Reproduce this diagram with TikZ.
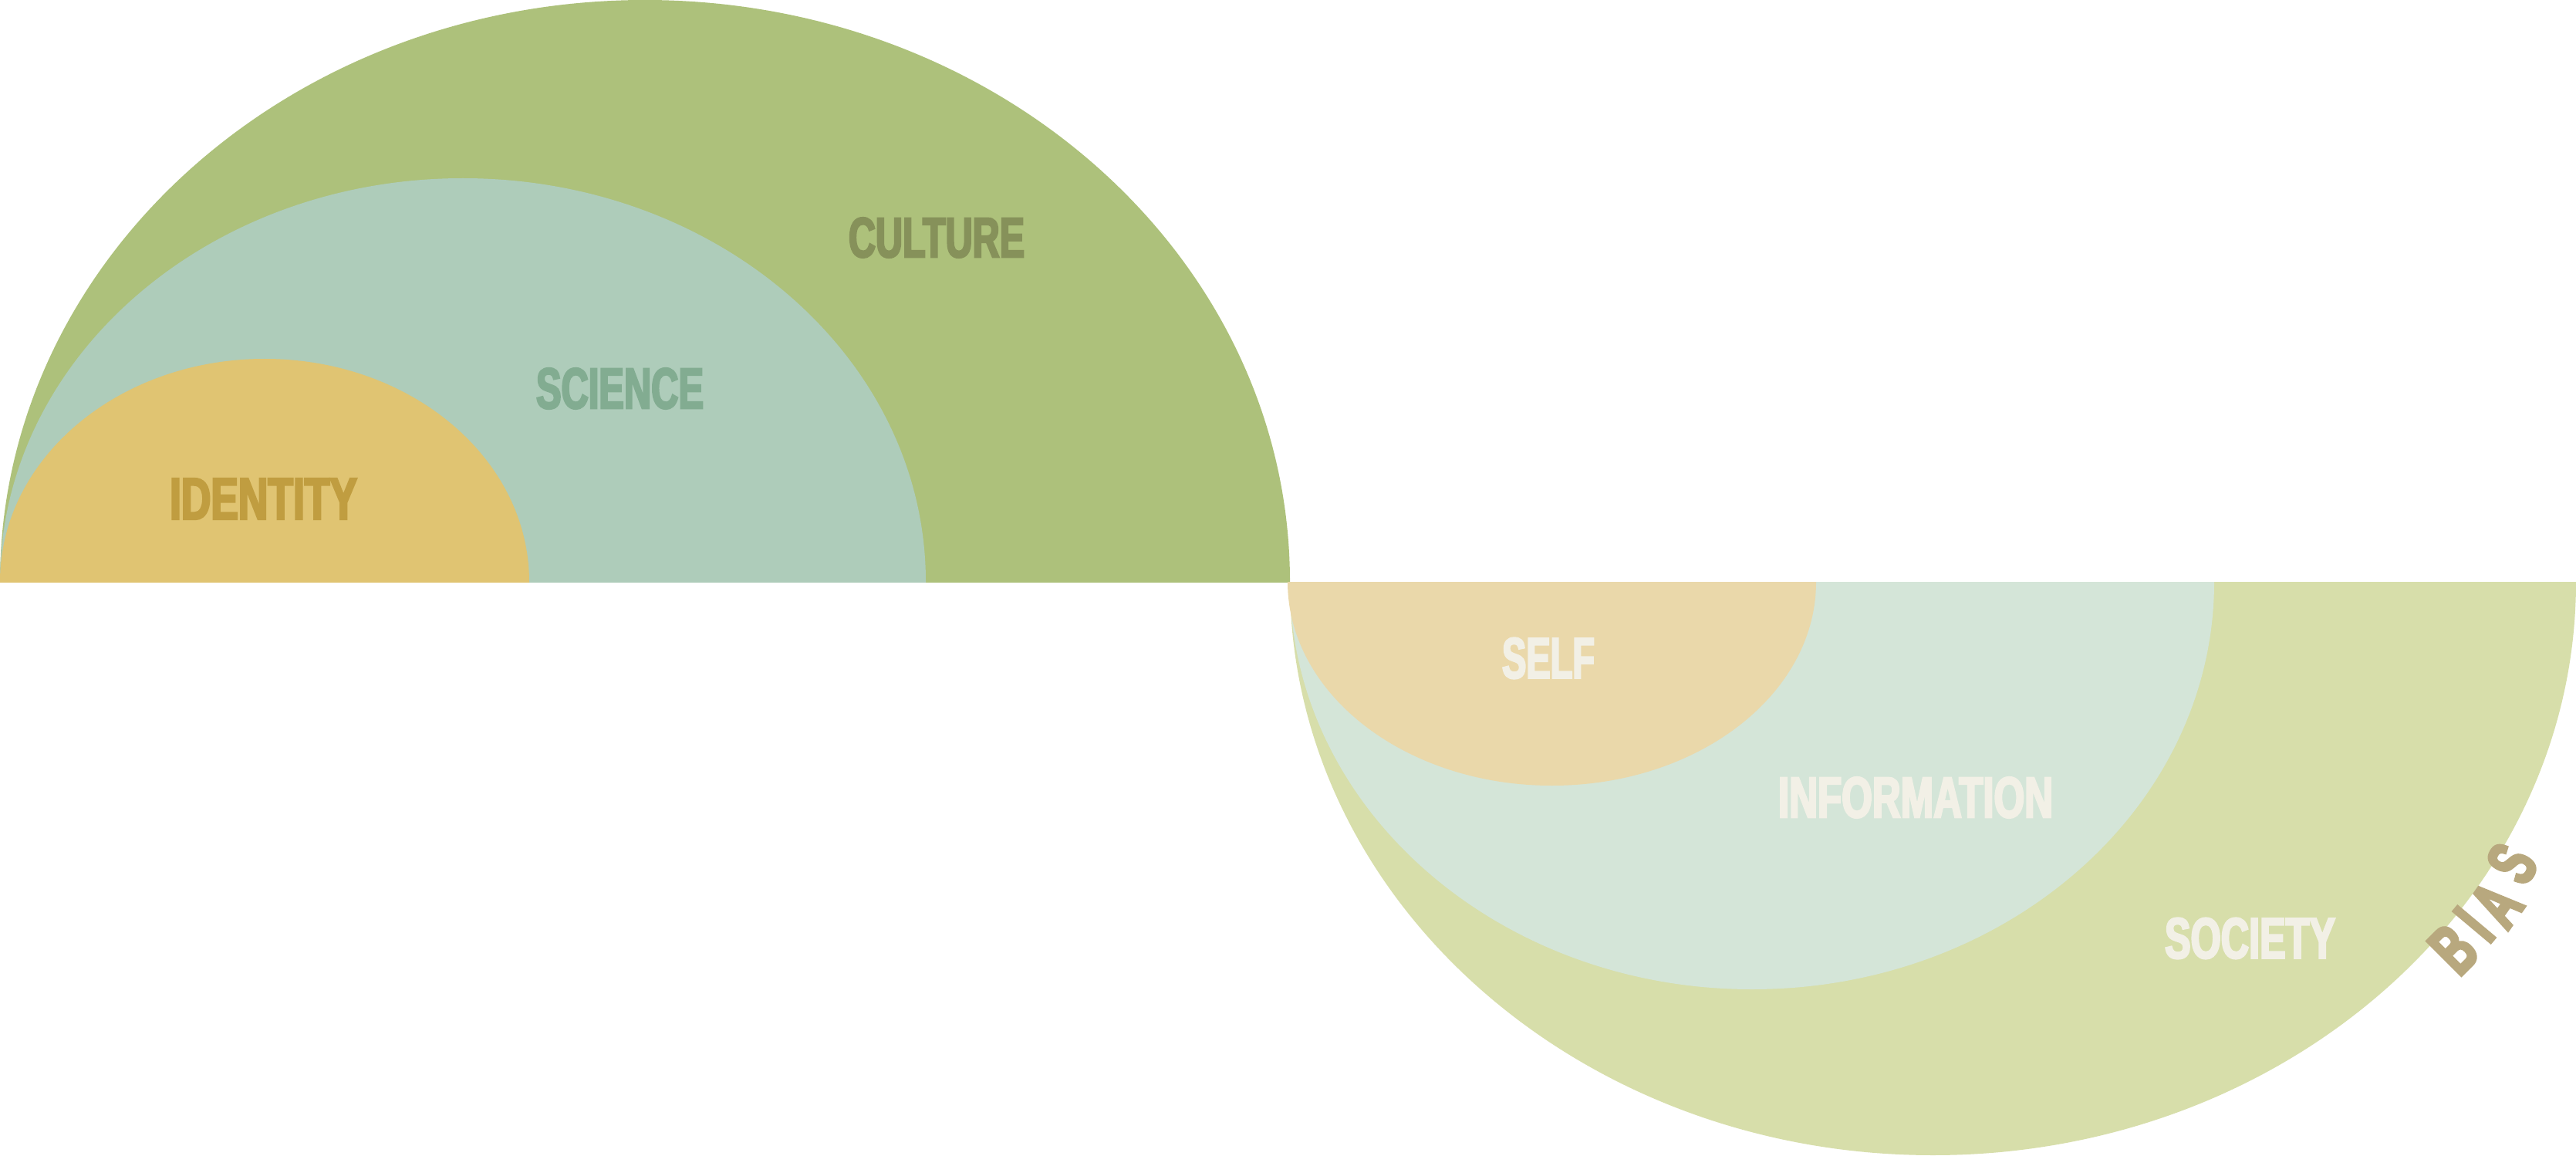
\documentclass[tikz,border=0pt]{standalone}
\usepackage{fontspec}
\usepackage{graphicx}
\newfontfamily\labelfont{Liberation Sans}[FakeStretch=0.62,FakeBold=3]
\newfontfamily\biasfont{Liberation Sans}[FakeStretch=0.62,FakeBold=4]
\newcommand{\lbltext}[3]{\resizebox*{#1}{#2}{\labelfont\bfseries #3}}
\newcommand{\biastxt}[1]{\resizebox*{!}{0.63cm}{\biasfont\bfseries #1}}
\definecolor{culturefill}{HTML}{ADC17B}
\definecolor{sciencefill}{HTML}{AECCBA}
\definecolor{identityfill}{HTML}{E0C472}
\definecolor{culturetext}{HTML}{86915A}
\definecolor{sciencetext}{HTML}{82AC91}
\definecolor{identitytext}{HTML}{C09D40}
\definecolor{societyfill}{HTML}{D7DEAA}
\definecolor{infofill}{HTML}{D4E5D8}
\definecolor{selffill}{HTML}{EAD8AA}
\definecolor{paletext}{HTML}{F2F0E6}
\definecolor{biastext}{HTML}{B8A87E}
\tikzset{
  lbl/.style={inner sep=0pt, anchor=center},
  biasletter/.style={inner sep=0pt, text=biastext},
}
\begin{document}
\begin{tikzpicture}
\useasboundingbox (0,0) rectangle (33.39,14.97);
% upper half
\begin{scope}
  \clip (0,7.43) rectangle (33.39,14.97);
  \fill[culturefill] (8.36,7.43) ellipse [x radius=8.36cm, y radius=7.54cm];
  \fill[sciencefill] (6.00,7.43) ellipse [x radius=6.00cm, y radius=5.23cm];
  \fill[identityfill] (3.43,7.43) ellipse [x radius=3.43cm, y radius=2.89cm];
\end{scope}
% lower half
\begin{scope}
  \clip (0,0) rectangle (33.39,7.43);
  \fill[societyfill] (25.055,7.43) ellipse [x radius=8.335cm, y radius=7.43cm];
  \fill[infofill] (22.71,7.43) ellipse [x radius=5.99cm, y radius=5.28cm];
  \fill[selffill] (20.115,7.43) ellipse [x radius=3.425cm, y radius=2.64cm];
\end{scope}
% labels
\node[lbl, text=culturetext] (culture) at (12.14,11.89) {\lbltext{2.28cm}{0.52cm}{CULTURE}};
\node[lbl, text=sciencetext] (science) at (8.035,9.935) {\lbltext{2.17cm}{0.53cm}{SCIENCE}};
\node[lbl, text=identitytext] (identity) at (3.415,8.505) {\lbltext{2.43cm}{0.53cm}{IDENTITY}};
\node[lbl, text=paletext] (self) at (20.07,6.44) {\lbltext{1.20cm}{0.53cm}{SELF}};
\node[lbl, text=paletext] (information) at (24.83,4.635) {\lbltext{3.56cm}{0.53cm}{INFORMATION}};
\node[lbl, text=paletext] (society) at (29.165,2.81) {\lbltext{2.21cm}{0.53cm}{SOCIETY}};
% curved BIAS, letter by letter
\node[biasletter, rotate=45] (biasB) at (31.80,2.67) {\biastxt{B}};
\node[biasletter, rotate=50] (biasI) at (32.07,2.99) {\biastxt{I}};
\node[biasletter, rotate=55] (biasA) at (32.36,3.25) {\biastxt{A}};
\node[biasletter, rotate=60] (biasS) at (32.56,3.78) {\biastxt{S}};
\end{tikzpicture}
\end{document}
